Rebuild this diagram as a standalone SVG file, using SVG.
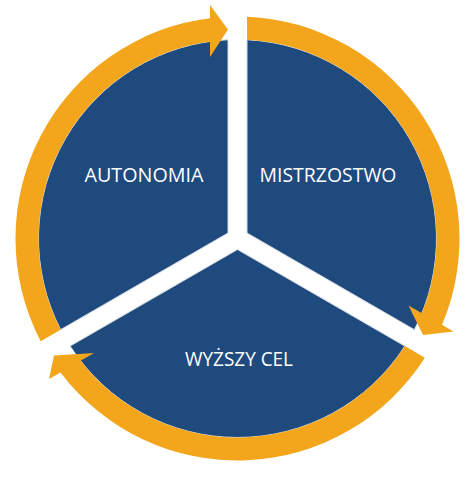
<svg xmlns="http://www.w3.org/2000/svg" width="476" height="480" viewBox="0 0 476 480">
  <style>
    .sector { fill: #1F4A7E; stroke: #d6dce4; stroke-width: 1; }
    .arc { fill: #F3A61B; }
    .label { fill: #ffffff; font-family: "Open Sans", Lato, "Noto Sans", sans-serif; font-size: 20.5px; }
  </style>
  <rect x="0" y="0" width="476" height="480" fill="#ffffff"/>
  <g id="autonomia">
    <path class="sector" d="M 228,233 L 60.61,329.66 A 199 199 0 0 1 228,39.73 Z"/>
    <text class="label" x="84.5" y="182" textLength="119" lengthAdjust="spacingAndGlyphs">AUTONOMIA</text>
  </g>
  <g id="mistrzostwo">
    <path class="sector" d="M 247,233 L 247,39.73 A 199 199 0 0 1 414.39,329.66 Z"/>
    <text class="label" x="259.5" y="182" textLength="137" lengthAdjust="spacingAndGlyphs">MISTRZOSTWO</text>
  </g>
  <g id="wyzszy-cel">
    <path class="sector" d="M 237.5,249.5 L 404.89,346.11 A 199 199 0 0 1 70.11,346.11 Z"/>
    <text class="label" x="185" y="365.5" textLength="108" lengthAdjust="spacingAndGlyphs">WYŻSZY CEL</text>
  </g>
  <g id="connectors">
    <path class="arc" d="M 40.67,341.17 A 222 222 0 0 1 210,18.2 L 210,5 L 228,29.5 L 210,57 L 210,41.4 A 199 199 0 0 0 60.61,329.66 Z"/>
    <path class="arc" d="M 247,16.7 A 222 222 0 0 1 442.02,324.83 L 453.46,331.44 L 423.1,335 L 408.43,305.44 L 421.93,313.23 A 199 199 0 0 0 247,39.73 Z"/>
    <path class="arc" d="M 424.83,357.63 A 222 222 0 0 1 60.48,372.46 L 49.04,379.07 L 54,355.4 L 94.07,353.07 L 80.57,360.86 A 199 199 0 0 0 404.89,346.11 Z"/>
  </g>
</svg>
